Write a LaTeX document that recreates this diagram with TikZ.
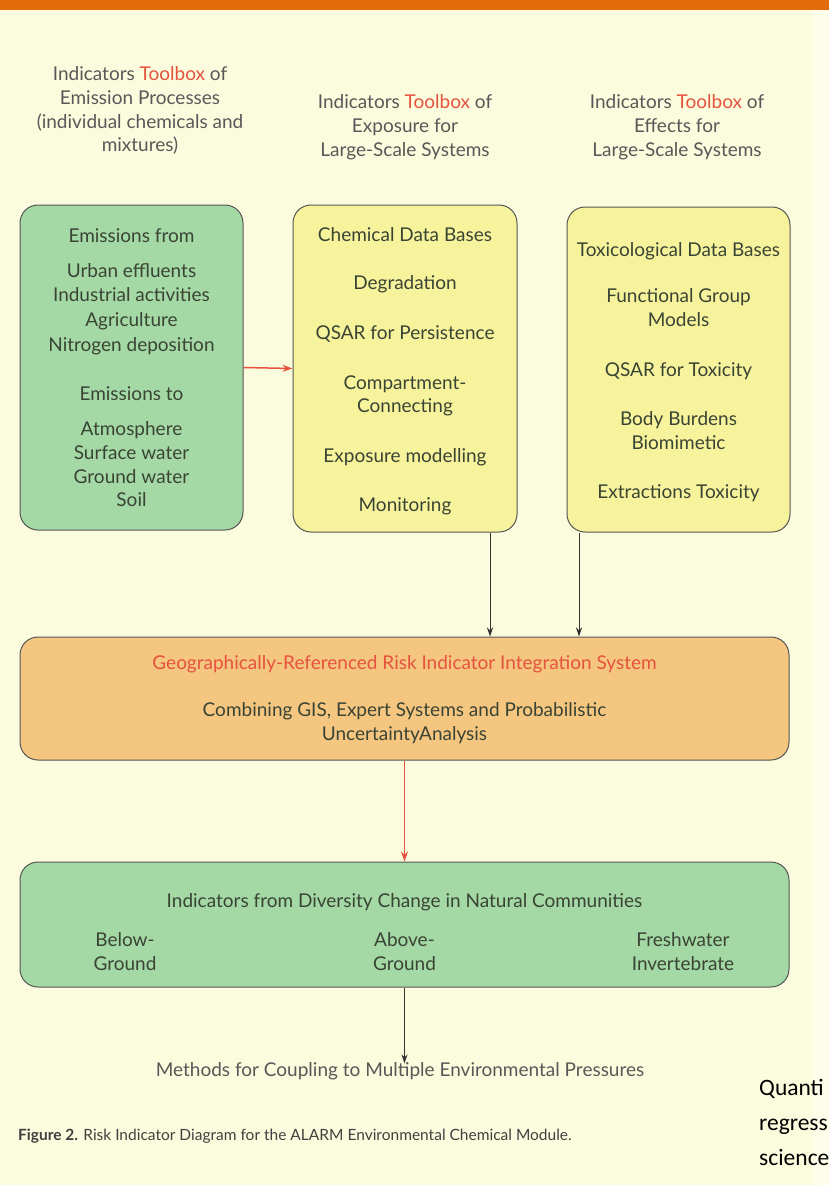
\documentclass[tikz,border=0pt]{standalone}
\usepackage{fontspec}
\setmainfont{Lato}
\newfontfamily\calib{Carlito}
\usetikzlibrary{arrows.meta}
\definecolor{bg}{HTML}{FBFCDD}
\definecolor{bgr}{HTML}{FDFDEA}
\definecolor{topbar}{HTML}{E36C0A}
\definecolor{gfill}{HTML}{A4D9A6}
\definecolor{yfill}{HTML}{F7F39C}
\definecolor{ofill}{HTML}{F5C680}
\definecolor{redt}{HTML}{E5533F}
\definecolor{boxtxt}{HTML}{3A4434}
\definecolor{hdtxt}{HTML}{585858}
\definecolor{edge}{HTML}{555555}
\begin{document}
\begin{tikzpicture}[x=1pt,y=-1pt,
  box/.style={draw=edge, line width=1pt, rounded corners=18pt, inner sep=0pt},
  txt/.style={text=boxtxt, font=\fontsize{19}{23}\selectfont, inner sep=0pt, text height=13pt, text depth=4pt},
  hd/.style={text=hdtxt, font=\fontsize{19}{23}\selectfont, inner sep=0pt, text height=13pt, text depth=4pt},
  qt/.style={anchor=west, inner sep=0pt, font=\calib\fontsize{23.5}{35}\selectfont, text height=16pt, text depth=5pt},
  arr/.style={-{Stealth[length=9pt,width=6pt]}, line width=0.8pt, draw=black!80},
  rarr/.style={-{Stealth[length=10pt,width=7pt]}, line width=1.5pt, draw=redt}]
\useasboundingbox (0,0) rectangle (829,1185);
\clip (0,0) rectangle (829,1185);
\fill[bg] (0,0) rectangle (829,1185);
\fill[bgr] (812,10) rectangle (829,1185);
\fill[topbar] (0,0) rectangle (829,10);
% headers
\node[hd] (h1a) at (140,76) {Indicators \textcolor{redt}{Toolbox} of};
\node[hd] (h1b) at (140,100) {Emission Processes};
\node[hd] (h1c) at (140,124) {(individual chemicals and};
\node[hd] (h1d) at (140,147) {mixtures)};
\node[hd] (h2a) at (405,104) {Indicators \textcolor{redt}{Toolbox} of};
\node[hd] (h2b) at (405,128) {Exposure for};
\node[hd] (h2c) at (405,152) {Large-Scale Systems};
\node[hd] (h3a) at (677,104) {Indicators \textcolor{redt}{Toolbox} of};
\node[hd] (h3b) at (677,128) {Effects for};
\node[hd] (h3c) at (677,152) {Large-Scale Systems};
% boxes
\node[box, fill=gfill, minimum width=223pt, minimum height=325pt] (emis) at (131.5,367.5) {};
\node[box, fill=yfill, minimum width=224pt, minimum height=327pt] (expo) at (405,368.5) {};
\node[box, fill=yfill, minimum width=223pt, minimum height=325pt] (eff) at (678.5,369.5) {};
\node[box, fill=ofill, minimum width=769pt, minimum height=123pt] (integ) at (404.5,698.5) {};
\node[box, fill=gfill, minimum width=769pt, minimum height=125pt] (div) at (404.5,924.5) {};
% box 1 text
\foreach \y/\t [count=\i] in {238/Emissions from, 273/Urban effluents, 297/Industrial activities, 322/Agriculture, 347/Nitrogen deposition, 396/Emissions to, 431/Atmosphere, 455/Surface water, 479/Ground water, 502/Soil}
  \node[txt] (e\i) at (131.5,\y) {\t};
% box 2 text
\foreach \y/\t [count=\i] in {237/Chemical Data Bases, 285/Degradation, 335/QSAR for Persistence, 385/Compartment-, 408/Connecting, 458/Exposure modelling, 507/Monitoring}
  \node[txt] (x\i) at (405,\y) {\t};
% box 3 text
\foreach \y/\t [count=\i] in {252/Toxicological Data Bases, 298/Functional Group, 322/Models, 372/QSAR for Toxicity, 421/Body Burdens /, 445/Biomimetic, 494/Extractions Toxicity}
  \node[txt] (f\i) at (678.5,\y) {\t};
% integration box text
\node[txt, text=redt] (i1) at (404.5,665) {Geographically-Referenced Risk Indicator Integration System};
\node[txt] (i2) at (404.5,712) {Combining GIS, Expert Systems and Probabilistic};
\node[txt] (i3) at (404.5,736) {UncertaintyAnalysis};
% diversity box text
\node[txt] (d0) at (404.5,903) {Indicators from Diversity Change in Natural Communities};
\node[txt] (d1) at (125,942) {Below-};
\node[txt] (d2) at (125,966) {Ground};
\node[txt] (d3) at (404.5,942) {Above-};
\node[txt] (d4) at (404.5,966) {Ground};
\node[txt] (d5) at (683,942) {Freshwater};
\node[txt] (d6) at (683,966) {Invertebrate};
% bottom text
\node[hd] (meth) at (400,1072) {Methods for Coupling to Multiple Environmental Pressures};
\node[hd, anchor=west, font=\fontsize{15.5}{18}\selectfont, text=black!75] (cap) at (18,1136) {\textbf{Figure 2.} Risk Indicator Diagram for the ALARM Environmental Chemical Module.};
\node[qt] (q1) at (759,1090) {Quanti};
\node[qt] (q2) at (759,1125) {regress};
\node[qt] (q3) at (759,1160) {science};
% connectors
\coordinate (ax) at (490,0);
\coordinate (bx) at (579,0);
\draw[rarr] (emis.east) -- (expo.west);
\draw[arr] (expo.south -| ax) -- (integ.north -| ax);
\draw[arr] (eff.south -| bx) -- (integ.north -| bx);
\draw[rarr] (integ.south) -- (div.north);
\draw[arr] (div.south) -- (div.south |- meth.north);
\end{tikzpicture}
\end{document}
